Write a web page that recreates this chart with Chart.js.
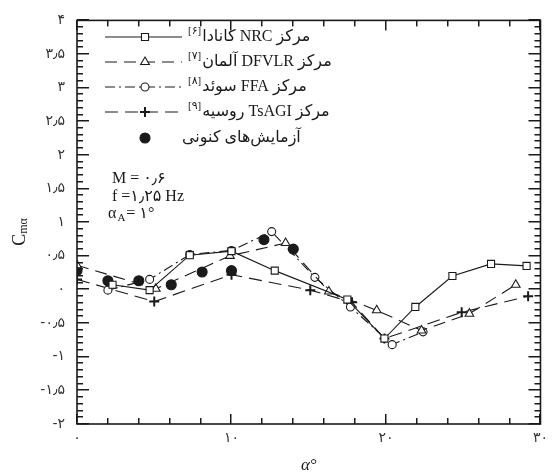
<!DOCTYPE html>
<html>
<head>
<meta charset="utf-8">
<script src="https://cdn.jsdelivr.net/npm/chart.js@4.4.1/dist/chart.umd.min.js"></script>
<style>
  html, body { margin: 0; padding: 0; background: #fff; }
</style>
</head>
<body>
<canvas id="chart" width="554" height="476"></canvas>
<script>
// data (alpha in degrees, Cm_alpha)
const nrcAlpha = [2.3, 4.7, 7.3, 10, 12.8, 17.5, 19.9, 21.9, 24.3, 26.8, 29.1];
const nrcCm = [0.07, -0.01, 0.51, 0.57, 0.28, -0.15, -0.73, -0.26, 0.20, 0.38, 0.35];

const dfvlrAlpha = [0, 5.1, 9.9, 13.5, 16.3, 19.4, 22.3, 25.4, 28.4];
const dfvlrCm = [0.36, 0.01, 0.50, 0.69, -0.03, -0.31, -0.61, -0.36, 0.07];

const ffaAlpha = [2.0, 4.7, 7.3, 10, 12.6, 15.4, 17.7, 20.4, 22.4];
const ffaCm = [-0.01, 0.15, 0.52, 0.58, 0.86, 0.18, -0.26, -0.82, -0.63];

const tsagiAlpha = [0, 5.0, 10, 15.1, 17.8, 19.9, 24.9, 29.2];
const tsagiCm = [0.15, -0.18, 0.22, -0.01, -0.19, -0.73, -0.34, -0.10];

const expAlpha = [0, 2, 4, 6.1, 8.1, 10, 12.1, 14];
const expCm = [0.28, 0.13, 0.13, 0.07, 0.26, 0.28, 0.74, 0.60];

const xTicks = [0, 10, 20, 30];
const yTicks = [-2, -1.5, -1, -0.5, 0, 0.5, 1, 1.5, 2, 2.5, 3, 3.5, 4];

const legendLabels = ['مرکز NRC کانادا', 'مرکز DFVLR آلمان', 'مرکز FFA سوئد', 'مرکز TsAGI روسیه', 'آزمایش‌های کنونی'];
const legendRefs = ['[۶]', '[۷]', '[۸]', '[۹]', ''];

const ink = '#1a1a1a';
const serif = '"Liberation Serif", "DejaVu Serif", "DejaVu Sans", serif';

function fa(v) {
    return String(v).replace('.', '٫').replace(/\d/g, d => '۰۱۲۳۴۵۶۷۸۹'[d]);
}

function pairs(xs, ys) {
    return xs.map((x, i) => ({ x: x, y: ys[i] }));
}

const series = [
    { label: legendLabels[0], data: pairs(nrcAlpha, nrcCm), dash: [], style: 'rect', radius: 5, fill: '#fff' },
    { label: legendLabels[1], data: pairs(dfvlrAlpha, dfvlrCm), dash: [12, 7], style: 'triangle', radius: 5, fill: '#fff' },
    { label: legendLabels[2], data: pairs(ffaAlpha, ffaCm), dash: [10, 4, 2, 4], style: 'circle', radius: 4, fill: '#fff' },
    { label: legendLabels[3], data: pairs(tsagiAlpha, tsagiCm), dash: [13, 7], style: 'cross', radius: 5, fill: ink },
    { label: legendLabels[4], data: pairs(expAlpha, expCm), dash: [], style: 'circle', radius: 5, fill: ink, noLine: true }
];

// draw a marker the way the legend needs it
function marker(ctx, s, x, y) {
    const r = s.radius;
    ctx.save();
    ctx.setLineDash([]);
    ctx.strokeStyle = ink;
    ctx.fillStyle = s.fill;
    ctx.lineWidth = s.style === 'cross' ? 2 : 1.1;
    ctx.beginPath();
    if (s.style === 'rect') {
        const h = r * Math.SQRT1_2;
        ctx.rect(x - h, y - h, 2 * h, 2 * h);
        ctx.fill(); ctx.stroke();
    } else if (s.style === 'triangle') {
        ctx.moveTo(x, y - r);
        ctx.lineTo(x + r * 0.87, y + r * 0.5);
        ctx.lineTo(x - r * 0.87, y + r * 0.5);
        ctx.closePath();
        ctx.fill(); ctx.stroke();
    } else if (s.style === 'cross') {
        ctx.moveTo(x - r, y); ctx.lineTo(x + r, y);
        ctx.moveTo(x, y - r); ctx.lineTo(x, y + r);
        ctx.stroke();
    } else {
        ctx.arc(x, y, r, 0, Math.PI * 2);
        ctx.fill(); ctx.stroke();
    }
    ctx.restore();
}

const decorations = {
    id: 'decorations',
    afterDraw(chart) {
        const ctx = chart.ctx;
        const a = chart.chartArea;
        const xs = chart.scales.x, ys = chart.scales.y;
        ctx.save();
        ctx.setLineDash([]);

        // frame and inward ticks on all four sides
        ctx.strokeStyle = ink;
        ctx.lineWidth = 1.6;
        ctx.strokeRect(a.left, a.top, a.right - a.left, a.bottom - a.top);
        ctx.fillStyle = ink;
        for (let v = 0; v <= 30; v += 2) {
            const px = Math.round(xs.getPixelForValue(v));
            const len = v % 10 === 0 ? 10 : 6;
            ctx.fillRect(px - 1, a.bottom - len, 1.5, len);
            ctx.fillRect(px - 1, a.top, 1.5, len);
        }
        for (let i = -20; i <= 40; i++) {
            const py = Math.round(ys.getPixelForValue(i / 10));
            const len = i % 5 === 0 ? 12 : 6;
            ctx.fillRect(a.left, py - 1, len, 1.5);
            ctx.fillRect(a.right - len, py - 1, len, 1.5);
        }

        // legend
        const rowY = [37, 62, 87, 112, 138];
        series.forEach((s, i) => {
            const y = rowY[i];
            if (!s.noLine) {
                ctx.save();
                ctx.strokeStyle = ink;
                ctx.lineWidth = 1.1;
                ctx.setLineDash(s.dash);
                ctx.beginPath();
                ctx.moveTo(105, y); ctx.lineTo(182, y);
                ctx.stroke();
                ctx.restore();
            }
            marker(ctx, s, 145, y);

            let tx = s.noLine ? 182 : 188;
            ctx.fillStyle = ink;
            ctx.textBaseline = 'middle';
            if (legendRefs[i]) {
                ctx.direction = 'ltr';
                ctx.textAlign = 'left';
                ctx.font = '11px ' + serif;
                ctx.fillText(legendRefs[i], tx, y - 6);
                tx += ctx.measureText(legendRefs[i]).width + 1;
            }
            ctx.direction = 'rtl';
            ctx.textAlign = 'left';
            ctx.font = '16px ' + serif;
            ctx.fillText(s.label, tx, y);
        });

        // flow conditions
        ctx.direction = 'ltr';
        ctx.textAlign = 'left';
        ctx.textBaseline = 'middle';
        ctx.font = '16px ' + serif;
        ctx.fillText('M = ' + fa(0.6), 112, 179);
        ctx.fillText('f =' + fa(1.25) + ' Hz', 112, 197);
        ctx.fillText('α', 108, 214);
        let w = ctx.measureText('α').width;
        ctx.font = '11px ' + serif;
        ctx.fillText('A', 108 + w + 1, 218);
        w += ctx.measureText('A').width + 2;
        ctx.font = '16px ' + serif;
        ctx.fillText('= ' + fa(1) + '°', 108 + w, 214);

        // axis titles
        ctx.textAlign = 'center';
        ctx.font = 'italic 17px ' + serif;
        ctx.fillText('α°', (a.left + a.right) / 2, 466);

        ctx.translate(20, 232);
        ctx.rotate(-Math.PI / 2);
        ctx.font = '18px ' + serif;
        const cw = ctx.measureText('C').width;
        ctx.font = '12px ' + serif;
        const sw = ctx.measureText('mα').width;
        const x0 = -(cw + sw) / 2;
        ctx.textAlign = 'left';
        ctx.font = '18px ' + serif;
        ctx.fillText('C', x0, 0);
        ctx.font = '12px ' + serif;
        ctx.fillText('mα', x0 + cw, 4);

        ctx.restore();
    }
};

const ctx = document.getElementById('chart').getContext('2d');
new Chart(ctx, {
    type: 'line',
    data: {
        datasets: series.map(s => ({
            label: s.label,
            data: s.data,
            showLine: !s.noLine,
            borderColor: ink,
            borderWidth: 1.1,
            borderDash: s.dash,
            pointStyle: s.style,
            pointRadius: s.radius,
            pointBorderWidth: s.style === 'cross' ? 2 : 1.1,
            pointBackgroundColor: s.fill,
            pointBorderColor: ink,
            fill: false,
            tension: 0
        }))
    },
    options: {
        responsive: false,
        animation: false,
        layout: { padding: { top: 13, right: 7, left: 0, bottom: 0 } },
        plugins: {
            legend: { display: false },
            tooltip: { enabled: false }
        },
        scales: {
            x: {
                type: 'linear',
                min: 0,
                max: 30,
                grid: { display: false, drawTicks: false },
                border: { display: false },
                afterBuildTicks: s => { s.ticks = xTicks.map(v => ({ value: v })); },
                afterFit: s => { s.height = 52; },
                ticks: {
                    padding: 6,
                    color: '#333',
                    font: { family: '"DejaVu Sans", sans-serif', size: 14 },
                    callback: v => fa(v)
                }
            },
            y: {
                type: 'linear',
                min: -2,
                max: 4,
                grid: { display: false, drawTicks: false },
                border: { display: false },
                afterBuildTicks: s => { s.ticks = yTicks.map(v => ({ value: v })); },
                afterFit: s => { s.width = 77; },
                ticks: {
                    padding: 12,
                    color: '#333',
                    font: { family: '"DejaVu Sans", sans-serif', size: 14 },
                    callback: v => fa(v)
                }
            }
        }
    },
    plugins: [decorations]
});
</script>
</body>
</html>
